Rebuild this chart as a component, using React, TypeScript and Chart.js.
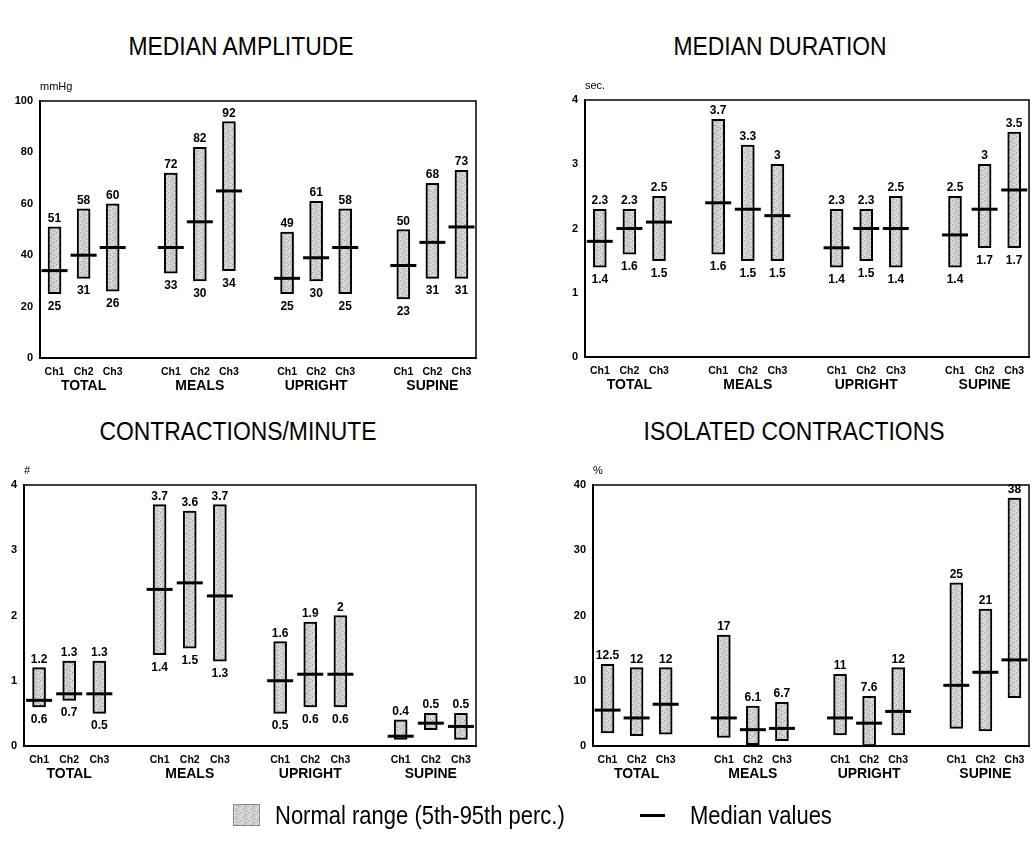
import { useEffect, useRef } from "react";
import { Chart, registerables } from "chart.js";

Chart.register(...registerables);

const FONT = "'Liberation Sans', Arial, Helvetica, sans-serif";

const channelLabels = ["Ch1", "Ch2", "Ch3"];
const groupLabels = ["TOTAL", "MEALS", "UPRIGHT", "SUPINE"];

// Median amplitude (mmHg): 5th percentile, 95th percentile, median
const ampLow = [25, 31, 26, 33, 30, 34, 25, 30, 25, 23, 31, 31];
const ampHigh = [51, 58, 60, 72, 82, 92, 49, 61, 58, 50, 68, 73];
const ampMedian = [34, 40, 43, 43, 53, 65, 31, 39, 43, 36, 45, 51];

// Median duration (sec.)
const durLow = [1.4, 1.6, 1.5, 1.6, 1.5, 1.5, 1.4, 1.5, 1.4, 1.4, 1.7, 1.7];
const durHigh = [2.3, 2.3, 2.5, 3.7, 3.3, 3, 2.3, 2.3, 2.5, 2.5, 3, 3.5];
const durMedian = [1.8, 2.0, 2.1, 2.4, 2.3, 2.2, 1.7, 2.0, 2.0, 1.9, 2.3, 2.6];

// Contractions per minute
const cpmLow = [0.6, 0.7, 0.5, 1.4, 1.5, 1.3, 0.5, 0.6, 0.6, 0.1, 0.25, 0.1];
const cpmHigh = [1.2, 1.3, 1.3, 3.7, 3.6, 3.7, 1.6, 1.9, 2, 0.4, 0.5, 0.5];
const cpmMedian = [0.7, 0.8, 0.8, 2.4, 2.5, 2.3, 1.0, 1.1, 1.1, 0.15, 0.35, 0.3];

// Isolated contractions (%)
const isoLow = [2, 1.6, 1.8, 1.3, 0.2, 0.8, 1.7, 0, 1.7, 2.7, 2.3, 7.4];
const isoHigh = [12.5, 12, 12, 17, 6.1, 6.7, 11, 7.6, 12, 25, 21, 38];
const isoMedian = [5.5, 4.3, 6.4, 4.3, 2.5, 2.7, 4.3, 3.5, 5.3, 9.3, 11.3, 13.2];

// Which lower bounds carry a printed value
const cpmLowShown = [true, true, true, true, true, true, true, true, true, false, false, false];
const allShown = ampLow.map(() => true);
const noneShown = ampLow.map(() => false);

// Three channel slots per group with an empty slot between groups
function spread<T>(values: T[]): (T | null)[] {
  const out: (T | null)[] = [];
  values.forEach((v, i) => {
    if (i > 0 && i % 3 === 0) out.push(null);
    out.push(v);
  });
  return out;
}
const slotLabels = spread(groupLabels.flatMap(() => channelLabels)).map((l) => l ?? "");

const CANVAS_W = 1045;
const CANVAS_H = 841;
const Y_W = 40;
const X_H = 40;

type Area = { left: number; top: number; right: number; bottom: number };
type Panel = {
  unit: string;
  min: number;
  max: number;
  step: number;
  low: number[];
  high: number[];
  median: number[];
  showLow: boolean[];
  area: Area;
};

const panels: Panel[] = [
  { unit: "mmHg", min: 0, max: 100, step: 20, low: ampLow, high: ampHigh, median: ampMedian, showLow: allShown,
    area: { left: 40, top: 101, right: 476, bottom: 358 } },
  { unit: "sec.", min: 0, max: 4, step: 1, low: durLow, high: durHigh, median: durMedian, showLow: allShown,
    area: { left: 585, top: 100, right: 1037, bottom: 357 } },
  { unit: "#", min: 0, max: 4, step: 1, low: cpmLow, high: cpmHigh, median: cpmMedian, showLow: cpmLowShown,
    area: { left: 24, top: 485, right: 476, bottom: 746 } },
  { unit: "%", min: 0, max: 40, step: 10, low: isoLow, high: isoHigh, median: isoMedian, showLow: noneShown,
    area: { left: 593, top: 485, right: 1035, bottom: 746 } },
];

// Fine gray stipple used to fill the normal-range bars
const stippleDots: [number, number, string][] = [
  [0, 0, "#9c9c9c"], [3, 1, "#a8a8a8"], [6, 0, "#eeeeee"], [1, 3, "#eeeeee"], [5, 2, "#979797"],
  [2, 5, "#a2a2a2"], [7, 4, "#ececec"], [4, 6, "#9e9e9e"], [0, 6, "#e9e9e9"], [6, 7, "#a5a5a5"],
  [3, 4, "#b0b0b0"], [1, 1, "#e4e4e4"],
];
function makeStipple(ctx: CanvasRenderingContext2D): CanvasPattern | string {
  const c = document.createElement("canvas");
  c.width = 8;
  c.height = 8;
  const g = c.getContext("2d");
  if (!g) return "#cccccc";
  g.fillStyle = "#d0d0d0";
  g.fillRect(0, 0, 8, 8);
  stippleDots.forEach(([x, y, col]) => {
    g.fillStyle = col;
    g.fillRect(x, y, 1, 1);
  });
  return ctx.createPattern(c, "repeat") ?? "#cccccc";
}

const fmt = (v: number) => String(v);

function PanelChart({ panel }: { panel: Panel }) {
  const ref = useRef<HTMLCanvasElement>(null);
  useEffect(() => {
    const canvas = ref.current;
    if (!canvas) return;
    const ctx = canvas.getContext("2d");
    if (!ctx) return;
    const { area } = panel;
    const ranges = spread(panel.low.map((l, i) => [l, panel.high[i]] as [number, number]));
    const medians = spread(panel.median);

    const annotate = {
      id: "annotate",
      afterDatasetsDraw(chart: any) {
        const c = chart.ctx as CanvasRenderingContext2D;
        const xs = chart.scales.x;
        const ys = chart.scales.y;
        const ca = chart.chartArea;
        c.save();
        // box around the plot
        c.strokeStyle = "#000";
        c.lineWidth = 1.5;
        c.beginPath();
        c.moveTo(ca.left, ca.top);
        c.lineTo(ca.right, ca.top);
        c.lineTo(ca.right, ca.bottom);
        c.stroke();
        // percentile values
        c.fillStyle = "#000";
        c.textAlign = "center";
        c.textBaseline = "alphabetic";
        c.font = `bold 12px ${FONT}`;
        let slot = 0;
        panel.high.forEach((hi, i) => {
          if (i > 0 && i % 3 === 0) slot++;
          const x = xs.getPixelForValue(slot);
          c.fillText(fmt(hi), x, ys.getPixelForValue(hi) - 5);
          if (panel.showLow[i]) c.fillText(fmt(panel.low[i]), x, ys.getPixelForValue(panel.low[i]) + 16);
          slot++;
        });
        // group names under the channel labels
        c.font = `bold 14px ${FONT}`;
        c.textBaseline = "middle";
        groupLabels.forEach((g, gi) => {
          c.fillText(g, xs.getPixelForValue(gi * 4 + 1), ca.bottom + 28);
        });
        // unit above the value axis
        c.textAlign = "left";
        c.textBaseline = "middle";
        c.font = `11px ${FONT}`;
        c.fillText(panel.unit, ca.left, ca.top - 14);
        c.restore();
      },
    };

    const chart = new Chart(ctx, {
      type: "bar",
      data: {
        labels: slotLabels,
        datasets: [
          {
            type: "line",
            data: medians as any,
            showLine: false,
            pointStyle: "line",
            pointRadius: 13,
            pointHoverRadius: 13,
            pointBorderWidth: 3,
            pointBorderColor: "#000",
            borderColor: "#000",
            order: 0,
          },
          {
            type: "bar",
            data: ranges as any,
            backgroundColor: makeStipple(ctx),
            borderColor: "#000",
            borderWidth: 2,
            borderSkipped: false,
            barThickness: 13,
            grouped: false,
            order: 1,
          },
        ],
      },
      options: {
        animation: false,
        responsive: false,
        events: [],
        layout: {
          padding: {
            left: area.left - Y_W,
            top: area.top,
            right: CANVAS_W - area.right,
            bottom: CANVAS_H - area.bottom - X_H,
          },
        },
        plugins: { legend: { display: false }, tooltip: { enabled: false }, title: { display: false } },
        scales: {
          x: {
            offset: true,
            grid: { display: false, drawTicks: false },
            border: { display: true, color: "#000", width: 2 },
            ticks: {
              autoSkip: false,
              maxRotation: 0,
              color: "#000",
              padding: 8,
              font: { family: FONT, size: 10.5, weight: "bold", lineHeight: 1.2 },
            },
            afterFit: (s: any) => {
              s.height = X_H;
            },
          },
          y: {
            min: panel.min,
            max: panel.max,
            grid: { display: false, drawTicks: false },
            border: { display: true, color: "#000", width: 2 },
            ticks: {
              stepSize: panel.step,
              color: "#000",
              padding: 7,
              font: { family: FONT, size: 11, weight: "bold" },
            },
            afterFit: (s: any) => {
              s.width = Y_W;
            },
          },
        },
      },
      plugins: [annotate],
    } as any);
    return () => chart.destroy();
  }, [panel]);
  return (
    <canvas
      ref={ref}
      width={CANVAS_W}
      height={CANVAS_H}
      style={{ position: "absolute", left: 0, top: 0, width: CANVAS_W, height: CANVAS_H }}
    />
  );
}

function LegendPatch() {
  const ref = useRef<HTMLCanvasElement>(null);
  useEffect(() => {
    const c = ref.current;
    const ctx = c?.getContext("2d");
    if (!c || !ctx) return;
    ctx.fillStyle = makeStipple(ctx);
    ctx.fillRect(0, 0, c.width, c.height);
    ctx.strokeStyle = "#888";
    ctx.lineWidth = 1;
    ctx.strokeRect(0.5, 0.5, c.width - 1, c.height - 1);
  }, []);
  return <canvas ref={ref} width={27} height={22} style={{ position: "absolute", left: 233, top: 804 }} />;
}

const titleStyle = (cx: number, cy: number): React.CSSProperties => ({
  position: "absolute",
  left: cx,
  top: cy,
  transform: "translate(-50%, -50%) scaleX(0.88)",
  fontFamily: FONT,
  fontSize: 26,
  whiteSpace: "nowrap",
  color: "#000",
  lineHeight: 1,
});

const legendText = (x: number, cy: number): React.CSSProperties => ({
  position: "absolute",
  left: x,
  top: cy,
  transform: "translateY(-50%) scaleX(0.88)",
  transformOrigin: "left center",
  fontFamily: FONT,
  fontSize: 25,
  whiteSpace: "nowrap",
  color: "#000",
  lineHeight: 1,
});

export default function App() {
  return (
    <div
      style={{
        position: "absolute",
        left: 0,
        top: 0,
        width: 1035,
        height: 841,
        overflow: "hidden",
        background: "#fff",
      }}
    >
      <div style={titleStyle(241, 46)}>MEDIAN AMPLITUDE</div>
      <div style={titleStyle(780, 46)}>MEDIAN DURATION</div>
      <div style={titleStyle(238, 431)}>CONTRACTIONS/MINUTE</div>
      <div style={titleStyle(794, 431)}>ISOLATED CONTRACTIONS</div>
      {panels.map((p, i) => (
        <PanelChart key={i} panel={p} />
      ))}
      <LegendPatch />
      <div style={legendText(275, 815)}>Normal range (5th-95th perc.)</div>
      <div style={{ position: "absolute", left: 640, top: 814, width: 25, height: 3, background: "#000" }} />
      <div style={legendText(690, 815)}>Median values</div>
    </div>
  );
}
